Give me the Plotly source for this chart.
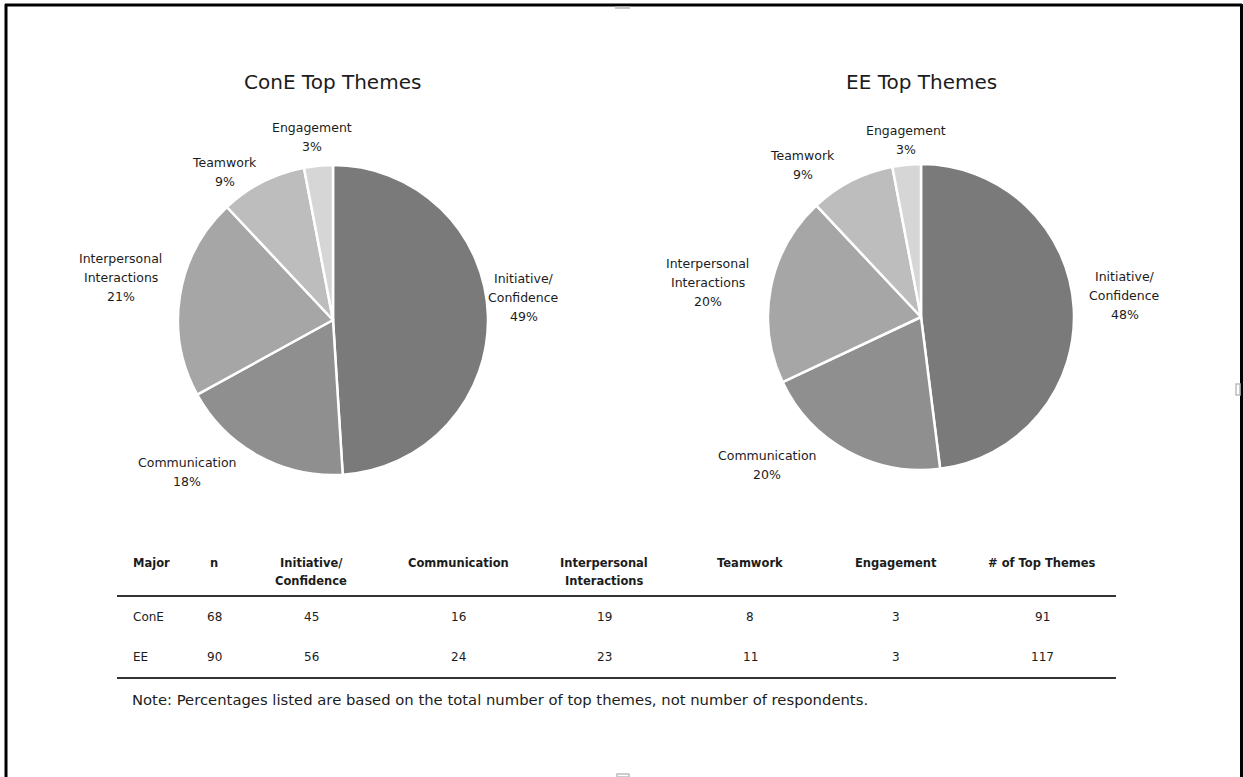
import math
import plotly.graph_objects as go

W, H = 1243, 777

# ---- data -------------------------------------------------------------
theme_names = ["Initiative/<br>Confidence", "Communication",
               "Interpersonal<br>Interactions", "Teamwork", "Engagement"]
cone_pct = [49, 18, 21, 9, 3]
ee_pct = [48, 20, 20, 9, 3]

table_headers = ["Major", "n", "Initiative/<br>Confidence", "Communication",
                 "Interpersonal<br>Interactions", "Teamwork", "Engagement",
                 "# of Top Themes"]
majors = ["ConE", "EE"]
n_resp = [68, 90]
cone_counts = [45, 16, 19, 8, 3]
ee_counts = [56, 24, 23, 11, 3]
total_themes = [91, 117]

note_text = ("Note: Percentages listed are based on the total number of top "
             "themes, not number of respondents.")

# ---- styling ----------------------------------------------------------
slice_colors = ["#7a7a7a", "#8f8f8f", "#a6a6a6", "#bdbdbd", "#d6d6d6"]
FONT = "DejaVu Sans"
TXT = "#1c1c1c"

pies = [
    dict(title="ConE Top Themes", values=cone_pct, cx=333, cy=320, r=155,
         label_shift=[(36, -18), (-71, 16), (-59, -18), (-38, -10), (-6, -29)]),
    dict(title="EE Top Themes", values=ee_pct, cx=921, cy=317, r=153,
         label_shift=[(51, -12), (-80, 14), (-63, -6), (-49, -16), (-1, -25)]),
]

def px_x(x):
    return x / W

def px_y(y):
    return 1 - y / H

fig = go.Figure()
annotations = []

def add_text(x, y, text, size, bold=False, xanchor="center", line_gap=None):
    lines = text.split("<br>")
    gap = line_gap if line_gap else size * 1.4
    top = y - gap * (len(lines) - 1) / 2
    for i, ln in enumerate(lines):
        annotations.append(dict(
            x=px_x(x), y=px_y(top + i * gap), xref="paper", yref="paper",
            text=f"<b>{ln}</b>" if bold else ln, showarrow=False,
            xanchor=xanchor, yanchor="middle",
            font=dict(family=FONT, size=size, color=TXT)))

for p in pies:
    cx, cy, r = p["cx"], p["cy"], p["r"]
    fig.add_trace(go.Pie(
        values=p["values"], labels=[t.replace("<br>", " ") for t in theme_names],
        sort=False, direction="clockwise", rotation=0,
        marker=dict(colors=slice_colors, line=dict(color="white", width=2.5)),
        textinfo="none", hoverinfo="label+percent", showlegend=False,
        domain=dict(x=[px_x(cx - r), px_x(cx + r)],
                    y=[px_y(cy + r), px_y(cy - r)])))
    # chart title
    add_text(cx, 82, p["title"], 20)
    # slice labels positioned from each slice's mid-angle
    total = sum(p["values"])
    cum = 0
    for name, v, (dx, dy) in zip(theme_names, p["values"], p["label_shift"]):
        theta = 2 * math.pi * (cum + v / 2) / total
        cum += v
        lx = cx + r * math.sin(theta) + dx
        ly = cy - r * math.cos(theta) + dy
        add_text(lx, ly, f"{name}<br>{v}%", 12.5, line_gap=19)

# ---- table ------------------------------------------------------------
col_x = [131, 214, 311, 458, 604, 750, 896, 1042]
header_y = 572
row_y = [617, 657]

for i, (h, x) in enumerate(zip(table_headers, col_x)):
    if "<br>" in h:
        add_text(x, header_y, h, 11.5, bold=True, line_gap=18)
    else:
        add_text(x, header_y - 9, h, 11.5, bold=True,
                 xanchor="left" if i == 0 else "center")

rows = [
    [majors[0], n_resp[0], *cone_counts, total_themes[0]],
    [majors[1], n_resp[1], *ee_counts, total_themes[1]],
]
for ry, row in zip(row_y, rows):
    for i, (val, x) in enumerate(zip(row, col_x)):
        add_text(x, ry, str(val), 12, xanchor="left" if i == 0 else "center")

add_text(130, 699, note_text, 14.8, xanchor="left")

shapes = []
for ly in (596, 678):
    shapes.append(dict(type="line", xref="paper", yref="paper",
                       x0=px_x(117), x1=px_x(1116), y0=px_y(ly), y1=px_y(ly),
                       line=dict(color="#333333", width=2)))

# ---- outer frame --------------------------------------------------------
frame = dict(color="black", width=3)
shapes += [
    dict(type="line", xref="paper", yref="paper", x0=px_x(5), x1=px_x(1242),
         y0=px_y(5), y1=px_y(5), line=frame),
    dict(type="line", xref="paper", yref="paper", x0=px_x(6), x1=px_x(6),
         y0=px_y(4), y1=0, line=frame),
    dict(type="line", xref="paper", yref="paper", x0=px_x(1241.5), x1=px_x(1241.5),
         y0=px_y(4), y1=0, line=frame),
    # small frame handles
    dict(type="rect", xref="paper", yref="paper", x0=px_x(615), x1=px_x(630),
         y0=px_y(9), y1=px_y(6.5), line=dict(width=0), fillcolor="#c8c8c8"),
    dict(type="rect", xref="paper", yref="paper", x0=px_x(617), x1=px_x(629),
         y0=0, y1=px_y(774), line=dict(color="#bdbdbd", width=1.5),
         fillcolor="white"),
    dict(type="rect", xref="paper", yref="paper", x0=px_x(1236), x1=px_x(1240),
         y0=px_y(395), y1=px_y(384), line=dict(color="#bdbdbd", width=1.5),
         fillcolor="white"),
]

fig.update_layout(
    width=W, height=H, margin=dict(l=0, r=0, t=0, b=0),
    paper_bgcolor="white", plot_bgcolor="white",
    annotations=annotations, shapes=shapes,
)

fig.write_html("out.html")
